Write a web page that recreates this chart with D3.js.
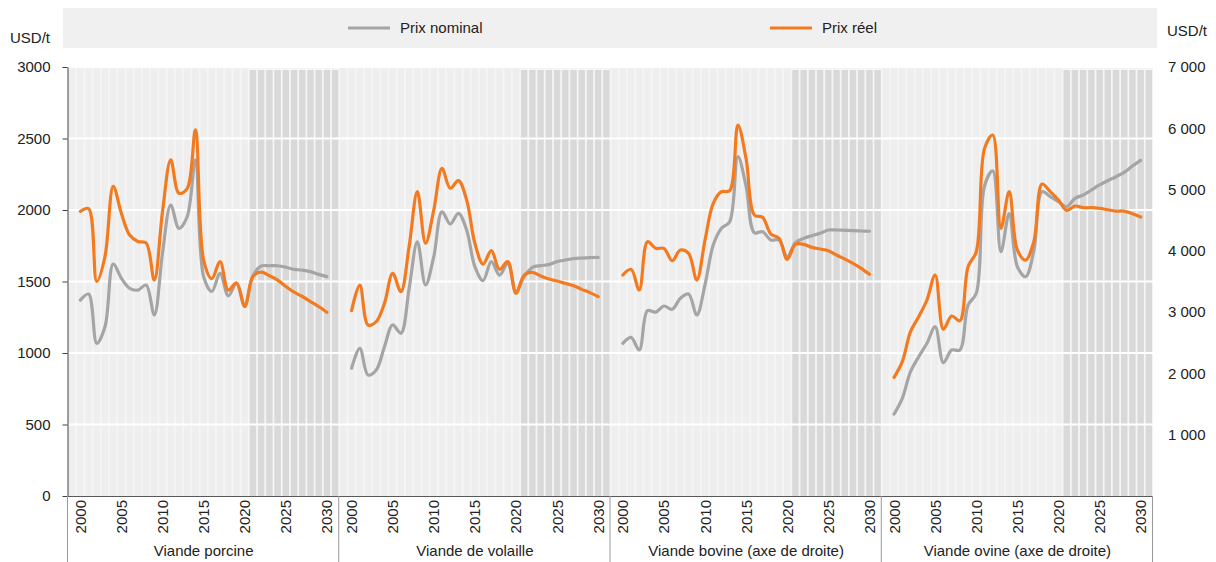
<!DOCTYPE html>
<html>
<head>
<meta charset="utf-8">
<script src="https://cdn.jsdelivr.net/npm/d3@7"></script>
<style>
body { margin: 0; background: #fff; }
svg { display: block; font-family: "Liberation Sans", Arial, sans-serif; }
</style>
</head>
<body>
<div id="chart"></div>
<script>
// categories
var groups = ["Viande porcine", "Viande de volaille", "Viande bovine (axe de droite)", "Viande ovine (axe de droite)"];
var groupAxis = ["left", "left", "right", "right"];
var years = [2000, 2001, 2002, 2003, 2004, 2005, 2006, 2007, 2008, 2009, 2010,
             2011, 2012, 2013, 2014, 2015, 2016, 2017, 2018, 2019, 2020,
             2021, 2022, 2023, 2024, 2025, 2026, 2027, 2028, 2029, 2030];
var tickYears = [2000, 2005, 2010, 2015, 2020, 2025, 2030];
var firstProjYear = 2021;
var leftTicks = [0, 500, 1000, 1500, 2000, 2500, 3000];
var rightTicks = [1000, 2000, 3000, 4000, 5000, 6000, 7000];

// series (USD/t)
var porkNominal = [1370, 1412, 1068, 1184, 1622, 1522, 1452, 1440, 1475, 1266, 1700, 2035, 1872, 1953, 2350, 1534, 1430, 1557, 1400, 1487, 1330, 1540, 1608, 1610, 1610, 1600, 1585, 1580, 1569, 1550, 1534];
var porkReal = [1990, 2010, 1500, 1675, 2165, 1975, 1825, 1780, 1770, 1510, 1990, 2350, 2117, 2150, 2560, 1650, 1520, 1640, 1440, 1490, 1325, 1535, 1565, 1540, 1510, 1465, 1425, 1395, 1360, 1325, 1285];
var poultryNominal = [893, 1033, 846, 881, 1044, 1196, 1138, 1450, 1778, 1476, 1674, 1988, 1902, 1977, 1860, 1604, 1506, 1639, 1545, 1627, 1429, 1534, 1599, 1611, 1618, 1639, 1650, 1660, 1664, 1667, 1669];
var poultryReal = [1296, 1475, 1196, 1219, 1347, 1557, 1429, 1744, 2128, 1767, 2000, 2291, 2152, 2205, 2070, 1767, 1622, 1716, 1585, 1639, 1417, 1545, 1564, 1538, 1517, 1503, 1487, 1471, 1445, 1422, 1394];
var beefNominal = [2491, 2589, 2382, 3024, 3000, 3100, 3046, 3226, 3296, 2953, 3450, 4095, 4368, 4476, 5536, 5050, 4296, 4313, 4177, 4177, 3905, 4133, 4204, 4247, 4286, 4340, 4340, 4335, 4330, 4324, 4320];
var beefReal = [3606, 3699, 3361, 4149, 4041, 4041, 3839, 4014, 3960, 3524, 4177, 4775, 4965, 4981, 6053, 5500, 4585, 4547, 4275, 4204, 3862, 4106, 4106, 4057, 4030, 4003, 3932, 3867, 3797, 3715, 3617];
var lambNominal = [1338, 1594, 2028, 2273, 2491, 2762, 2175, 2382, 2382, 3116, 3307, 5059, 5304, 3986, 4606, 3741, 3578, 3998, 4966, 4884, 4802, 4720, 4857, 4911, 4993, 5075, 5145, 5210, 5282, 5384, 5476];
var lambReal = [1936, 2192, 2681, 2926, 3198, 3606, 2720, 2937, 2860, 3741, 3986, 5668, 5890, 4368, 4966, 4014, 3850, 4149, 5090, 4966, 4828, 4660, 4731, 4704, 4704, 4693, 4671, 4649, 4649, 4606, 4551];

var nominalSeries = [porkNominal, poultryNominal, beefNominal, lambNominal];
var realSeries = [porkReal, poultryReal, beefReal, lambReal];

(function() {
    var width = 1216,
        height = 562;
    var left = 68, right = 1153, top = 67, bottom = 496;
    var grey = "#a5a5a5", orange = "#f47a20";
    var fs = 15;

    var svg = d3.select("#chart")
        .append("svg")
        .attr("width", width)
        .attr("height", height);

    // one slot before and after each group of years
    var slots = [];
    groups.forEach(function(g, gi) {
        slots.push(gi + "|a");
        years.forEach(function(y) { slots.push(gi + "|" + y); });
        slots.push(gi + "|b");
    });

    var x = d3.scaleBand().domain(slots).range([left, right]);
    var bw = x.bandwidth();
    var yL = d3.scaleLinear().domain([0, 3000]).range([bottom, top]);
    var yR = d3.scaleLinear().domain([0, 7000]).range([bottom, top]);

    function isProj(d) {
        var p = d.split("|")[1];
        return p === "b" || (+p >= firstProjYear);
    }

    // legend band
    svg.append("rect")
        .attr("x", 63).attr("y", 8)
        .attr("width", 1094).attr("height", 40)
        .attr("fill", "#f0f0f0");

    var legend = [{label: "Prix nominal", color: grey, x: 348}, {label: "Prix réel", color: orange, x: 770}];
    legend.forEach(function(l) {
        svg.append("line")
            .attr("x1", l.x).attr("x2", l.x + 42)
            .attr("y1", 28).attr("y2", 28)
            .attr("stroke", l.color).attr("stroke-width", 3);
        svg.append("text")
            .attr("x", l.x + 52).attr("y", 33)
            .attr("font-size", fs).attr("fill", "#222")
            .text(l.label);
    });

    svg.append("text").attr("x", 10).attr("y", 43).attr("font-size", fs).attr("fill", "#222").text("USD/t");
    svg.append("text").attr("x", 1167).attr("y", 36).attr("font-size", fs).attr("fill", "#222").text("USD/t");

    // plot background and year stripes
    svg.append("rect")
        .attr("x", left).attr("y", top)
        .attr("width", right - left).attr("height", bottom - top)
        .attr("fill", "#f5f5f5");

    svg.selectAll(".slot")
        .data(slots)
        .enter().append("rect")
        .attr("class", "slot")
        .attr("x", function(d) { return x(d) + bw * 0.11; })
        .attr("width", bw * 0.78)
        .attr("y", function(d) { return isProj(d) ? top + 3 : top; })
        .attr("height", function(d) { return isProj(d) ? bottom - top - 3 : bottom - top; })
        .attr("fill", function(d) { return isProj(d) ? "#d9d9d9" : "#eeeeee"; });

    // gridlines
    svg.selectAll(".grid")
        .data(leftTicks.filter(function(v) { return v > 0; }))
        .enter().append("line")
        .attr("class", "grid")
        .attr("x1", left).attr("x2", right)
        .attr("y1", function(d) { return yL(d); })
        .attr("y2", function(d) { return yL(d); })
        .attr("stroke", "#fff").attr("stroke-width", 2);

    // left axis
    var axL = svg.append("g")
        .attr("transform", "translate(" + (left - 0.5) + ",0)")
        .call(d3.axisLeft(yL).tickValues(leftTicks).tickSize(5).tickSizeOuter(0).tickPadding(12).tickFormat(d3.format("d")));
    axL.select(".domain").attr("stroke", "#404040");
    axL.selectAll(".tick line").attr("stroke", "#404040");
    axL.selectAll("text").attr("font-size", fs).attr("fill", "#222").attr("font-family", "Liberation Sans, Arial, sans-serif");

    // right axis labels
    var fr = d3.formatLocale({decimal: ",", thousands: "\u00a0", grouping: [3], currency: ["", ""]}).format(",");
    var axR = svg.append("g")
        .attr("transform", "translate(1166,0)")
        .call(d3.axisRight(yR).tickValues(rightTicks).tickSize(0).tickPadding(2).tickFormat(fr));
    axR.select(".domain").remove();
    axR.selectAll("text").attr("font-size", fs).attr("fill", "#222").attr("font-family", "Liberation Sans, Arial, sans-serif");

    // bottom axis line
    svg.append("line")
        .attr("x1", left - 0.5).attr("x2", right)
        .attr("y1", bottom + 0.5).attr("y2", bottom + 0.5)
        .attr("stroke", "#595959");

    // group separators and labels
    var groupW = (right - left) / groups.length;
    d3.range(groups.length + 1).forEach(function(i) {
        svg.append("line")
            .attr("x1", left - 0.5 + i * groupW).attr("x2", left - 0.5 + i * groupW)
            .attr("y1", bottom).attr("y2", height)
            .attr("stroke", "#999");
    });

    svg.selectAll(".glabel")
        .data(groups)
        .enter().append("text")
        .attr("class", "glabel")
        .attr("x", function(d, i) { return left + (i + 0.5) * groupW; })
        .attr("y", 556)
        .attr("text-anchor", "middle")
        .attr("font-size", fs).attr("fill", "#222")
        .text(function(d) { return d; });

    // rotated year ticks
    groups.forEach(function(g, gi) {
        svg.selectAll(".yr" + gi)
            .data(tickYears)
            .enter().append("text")
            .attr("class", "yr" + gi)
            .attr("transform", function(d) {
                var cx = x(gi + "|" + d) + bw / 2;
                return "translate(" + (cx + 5.5) + "," + (bottom + 4) + ") rotate(-90)";
            })
            .attr("text-anchor", "end")
            .attr("font-size", fs).attr("fill", "#222")
            .text(function(d) { return d; });
    });

    // lines
    var line = d3.line()
        .x(function(d) { return d.x; })
        .y(function(d) { return d.y; })
        .curve(d3.curveCatmullRom.alpha(0.5));

    groups.forEach(function(g, gi) {
        var yScale = groupAxis[gi] === "left" ? yL : yR;
        [[nominalSeries[gi], grey], [realSeries[gi], orange]].forEach(function(s) {
            var pts = years.map(function(yr, i) {
                return {x: x(gi + "|" + yr) + bw / 2, y: yScale(s[0][i])};
            });
            svg.append("path")
                .datum(pts)
                .attr("d", line)
                .attr("fill", "none")
                .attr("stroke", s[1])
                .attr("stroke-width", 3.2)
                .attr("stroke-linejoin", "round")
                .attr("stroke-linecap", "round");
        });
    });
})();
</script>
</body>
</html>
